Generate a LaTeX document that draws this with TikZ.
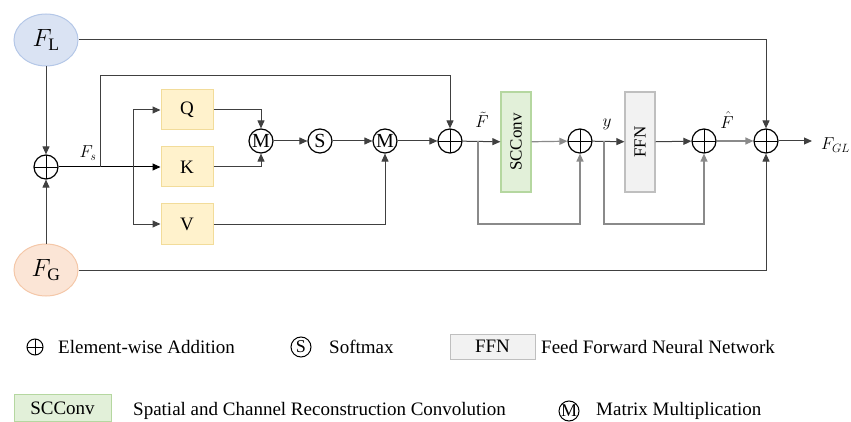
\documentclass[tikz,border=0pt]{standalone}
\usepackage{fontspec}
\setmainfont{Liberation Serif}
\usepackage{graphicx}
\usetikzlibrary{arrows.meta,shapes.geometric}
\definecolor{lineC}{HTML}{404040}
\definecolor{lineG}{HTML}{8A8A8A}
\definecolor{blueF}{HTML}{DAE3F3}
\definecolor{blueD}{HTML}{B4C7E7}
\definecolor{orangeF}{HTML}{FBE5D6}
\definecolor{orangeD}{HTML}{F4C7A8}
\definecolor{yellowF}{HTML}{FFF2CC}
\definecolor{yellowD}{HTML}{F2DC9A}
\definecolor{greenF}{HTML}{E2F0D9}
\definecolor{greenD}{HTML}{B5D7A0}
\definecolor{grayF}{HTML}{F2F2F2}
\definecolor{grayD}{HTML}{BFBFBF}
\begin{document}
\begin{tikzpicture}[x=1pt,y=-1pt,
  addc/.style={circle, draw=black, line width=1.2pt, minimum size=24pt, inner sep=0pt,
    path picture={\draw[line width=0.9pt] (path picture bounding box.north) -- (path picture bounding box.south)
      (path picture bounding box.west) -- (path picture bounding box.east);}},
  opc/.style={circle, draw=black, line width=1.2pt, minimum size=24pt, inner sep=0pt, font=\fontsize{20}{20}\selectfont},
  feat/.style={ellipse, line width=1pt, minimum width=64pt, minimum height=52pt, inner sep=0pt},
  qkv/.style={rectangle, draw=yellowD, fill=yellowF, line width=1pt, minimum width=52pt, minimum height=40pt, inner sep=0pt, font=\fontsize{19}{19}\selectfont},
  vbox/.style={rectangle, line width=1.2pt, minimum width=30pt, minimum height=100pt, inner sep=0pt},
  arr/.style={-{Triangle[length=8pt,width=7pt]}, line width=1pt, draw=lineC},
  ln/.style={line width=1pt, draw=lineC},
  arrg/.style={-{Triangle[length=8pt,width=7pt]}, line width=1.2pt, draw=lineG},
  lab/.style={inner sep=0pt, font=\fontsize{18}{18}\selectfont},
  leg/.style={inner sep=0pt, anchor=west, font=\fontsize{19}{21}\selectfont}
]
\useasboundingbox (0,0) rectangle (851,422);

% feature inputs
\node[feat, draw=blueD, fill=blueF] (FL) at (46,40) {\fontsize{25}{25}\selectfont $F_{\mathrm{L}}$};
\node[feat, draw=orangeD, fill=orangeF] (FG) at (46,270) {\fontsize{25}{25}\selectfont $F_{\mathrm{G}}$};
\node[addc] (add1) at (46,167) {};

% Q K V
\node[qkv] (Q) at (187,110) {Q};
\node[qkv] (K) at (187,167) {K};
\node[qkv] (V) at (187,224) {V};

% operators
\node[opc] (M1) at (261,141) {M};
\node[opc] (S) at (320,141) {S};
\node[opc] (M2) at (385,141) {M};
\node[addc] (add2) at (450,141) {};
\node[vbox, draw=greenD, fill=greenF] (SC) at (516,142) {\rotatebox{90}{\fontsize{17}{17}\selectfont SCConv}};
\node[addc] (add3) at (580,141) {};
\node[vbox, draw=grayD, fill=grayF] (FFN) at (640,142) {\rotatebox{90}{\fontsize{17}{17}\selectfont FFN}};
\node[addc] (add4) at (704,141) {};
\node[addc] (add5) at (766,141) {};
\coordinate (out) at (812,141);

% coordinates for routing
\coordinate (split) at (133,167);
\coordinate (skip) at (100,167);
\coordinate (br1) at (478,141);
\coordinate (br2) at (604,141);

% connections
\draw[arr] (FL) -- (add1);
\draw[arr] (FG) -- (add1);
\draw[arr, draw=black] (add1) -- (K);
\draw[ln] (split |- Q) -- (split |- V);
\draw[arr] (split |- Q) -- (Q);
\draw[arr] (split |- V) -- (V);
\draw[arr] (skip) -- (100,76) -| (add2);
\draw[arr] (Q) -| (M1);
\draw[arr] (K) -| (M1);
\draw[arr] (M1) -- (S);
\draw[arr] (S) -- (M2);
\draw[arr] (V) -| (M2);
\draw[arr] (M2) -- (add2);
\draw[arr] (add2) -- (SC);
\draw[arrg] (SC) -- (add3);
\draw[arrg] (br1) |- (530,224) -| (add3);
\draw[arr] (add3) -- (FFN);
\draw[arrg] (br2) |- (650,224) -| (add4);
\draw[arr] (FFN) -- (add4);
\draw[arrg] (add4) -- (add5);
\draw[arr] (add5) -- (out);
\draw[arr] (FL) -| (add5);
\draw[arr] (FG) -| (add5);

% labels
\node[lab] (lFs) at (88,153) {$F_s$};
\node[lab] (lFt) at (482,120) {$\tilde{F}$};
\node[lab] (ly) at (607,124) {$y$};
\node[lab] (lFh) at (727,120) {$\hat{F}$};
\node[lab, anchor=west, font=\fontsize{17}{17}\selectfont] (lFGL) at (821,145) {$F_{GL}$};

% legend
\node[addc, minimum size=16pt, line width=1pt] (lgA) at (35,347) {};
\node[leg] (lgAt) at (58,347) {Element-wise Addition};
\node[opc, minimum size=20pt, line width=1pt, font=\fontsize{18}{18}\selectfont] (lgS) at (301,347) {S};
\node[leg] (lgSt) at (329,347) {Softmax};
\node[rectangle, draw=grayD, fill=grayF, line width=1pt, minimum width=85pt, minimum height=25pt, inner sep=0pt, font=\fontsize{19}{19}\selectfont] (lgF) at (492.5,346.5) {FFN};
\node[leg] (lgFt) at (541,347) {Feed Forward Neural Network};
\node[rectangle, draw=greenD, fill=greenF, line width=1pt, minimum width=97pt, minimum height=27pt, inner sep=0pt, font=\fontsize{19}{19}\selectfont] (lgC) at (62.5,408) {SCConv};
\node[leg] (lgCt) at (133,411) {Spatial and Channel Reconstruction Convolution};
\node[opc, minimum size=20pt, line width=1pt, font=\fontsize{18}{18}\selectfont] (lgM) at (569,411) {M};
\node[leg] (lgMt) at (596,411) {Matrix Multiplication};
\end{tikzpicture}
\end{document}
